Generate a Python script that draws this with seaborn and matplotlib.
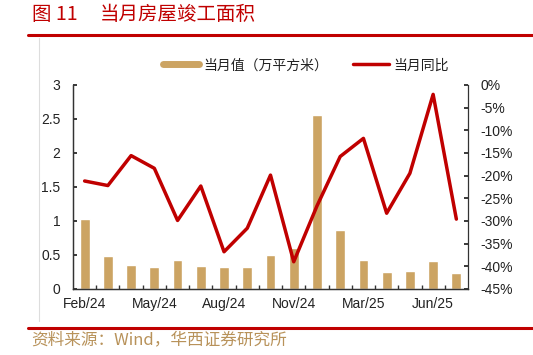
import numpy as np
import pandas as pd
import matplotlib
matplotlib.use("Agg")
import matplotlib.pyplot as plt
from matplotlib.lines import Line2D
from matplotlib.ticker import FuncFormatter, MultipleLocator
import seaborn as sns


# 当月房屋竣工面积 (monthly completed floor area) and YoY growth
months = ["Feb/24", "Mar/24", "Apr/24", "May/24", "Jun/24", "Jul/24", "Aug/24",
          "Sep/24", "Oct/24", "Nov/24", "Dec/24", "Feb/25", "Mar/25", "Apr/25",
          "May/25", "Jun/25", "Jul/25"]
area = [1.03, 0.48, 0.35, 0.33, 0.42, 0.34, 0.33, 0.33, 0.50, 0.60, 2.55,
        0.87, 0.42, 0.25, 0.26, 0.41, 0.24]
yoy = [-21.2, -22.2, -15.6, -18.4, -29.9, -22.3, -36.8, -31.6, -19.9, -39.0,
       -26.7, -15.8, -11.8, -28.3, -19.5, -2.1, -29.6]
shown_labels = ["Feb/24", "May/24", "Aug/24", "Nov/24", "Mar/25", "Jun/25"]

df = pd.DataFrame({"month": months, "area": area, "yoy": yoy, "pos": np.arange(len(months))})

sns.set_theme(style="white")
plt.rcParams["font.family"] = ["Liberation Sans", "Noto Sans CJK SC", "DejaVu Sans"]

bar_color = "#CCA463"
line_color = "#C00000"

fig = plt.figure(figsize=(5.33, 3.55), dpi=100)
ax = fig.add_axes([0.137, 0.186, 0.741, 0.575])

sns.barplot(data=df, x="month", y="area", color=bar_color, width=0.42,
            saturation=1, ax=ax, label="当月值（万平方米）")
ax.set_xlim(-0.5, len(months) - 0.5)
ax.set_ylim(0, 3)
ax.yaxis.set_major_locator(MultipleLocator(0.5))
ax.yaxis.set_major_formatter(FuncFormatter(lambda v, p: f"{v:g}"))

ax2 = ax.twinx()
sns.lineplot(data=df, x="pos", y="yoy", color=line_color, linewidth=2.5,
             ax=ax2, label="当月同比", legend=False)
ax2.set_ylim(-45, 0)
ax2.yaxis.set_major_locator(MultipleLocator(5))
ax2.yaxis.set_major_formatter(FuncFormatter(lambda v, p: f"{v:.0f}%"))

# x ticks: labels every third month, small ticks between bars
pos_labels = [months.index(m) for m in shown_labels]
ax.set_xticks(pos_labels)
ax.set_xticklabels(shown_labels)
ax.set_xticks(np.arange(0.5, len(months) - 1, 1), minor=True)
ax.tick_params(axis="x", which="major", length=0, labelsize=10, pad=6, colors="#222222")
ax.tick_params(axis="x", which="minor", length=3, direction="in", color="#333333", bottom=True)
ax.tick_params(axis="y", length=3, direction="in", labelsize=10, pad=9, left=True, colors="#222222")
ax2.tick_params(axis="y", length=3, direction="in", labelsize=10, pad=9, right=True, colors="#222222")

for a in (ax, ax2):
    a.set_xlabel("")
    a.set_ylabel("")
    a.spines["top"].set_visible(False)
    for s in ("left", "right", "bottom"):
        a.spines[s].set_color("#333333")
        a.spines[s].set_linewidth(0.9)
ax.spines["right"].set_visible(False)

# legend above plot
h1, l1 = ax.get_legend_handles_labels()
h2, l2 = ax2.get_legend_handles_labels()
h1 = [Line2D([0], [0], color=bar_color, linewidth=5)]
leg = ax.legend(h1 + h2, l1[:1] + l2, loc="lower center", bbox_to_anchor=(0.59, 1.0),
                ncol=2, frameon=False, fontsize=10, handlelength=2.6, columnspacing=1.8,
                handletextpad=0.3)
for t in leg.get_texts():
    t.set_color("#222222")

# title, rules and source
fig.text(0.06, 0.958, "图 11", color="#C00000", fontsize=14,
         va="center", ha="left", family=["Noto Sans CJK SC"])
fig.text(0.187, 0.958, "当月房屋竣工面积", color="#C00000", fontsize=14,
         va="center", ha="left", family=["Noto Sans CJK SC"])
fig.add_artist(Line2D([0.053, 1.0], [0.901, 0.901], color="#C00000", linewidth=2.2))
fig.add_artist(Line2D([0.053, 1.0], [0.076, 0.076], color="#C00000", linewidth=2.2))
fig.add_artist(Line2D([0.074, 0.074], [0.095, 0.893], color="#DDDDDD", linewidth=0.8))
fig.text(0.058, 0.042, "资料来源：Wind，华西证券研究所", color="#B8925A", fontsize=12,
         va="center", ha="left", family=["Noto Sans CJK SC"])

fig.savefig("out.png", dpi=100)
